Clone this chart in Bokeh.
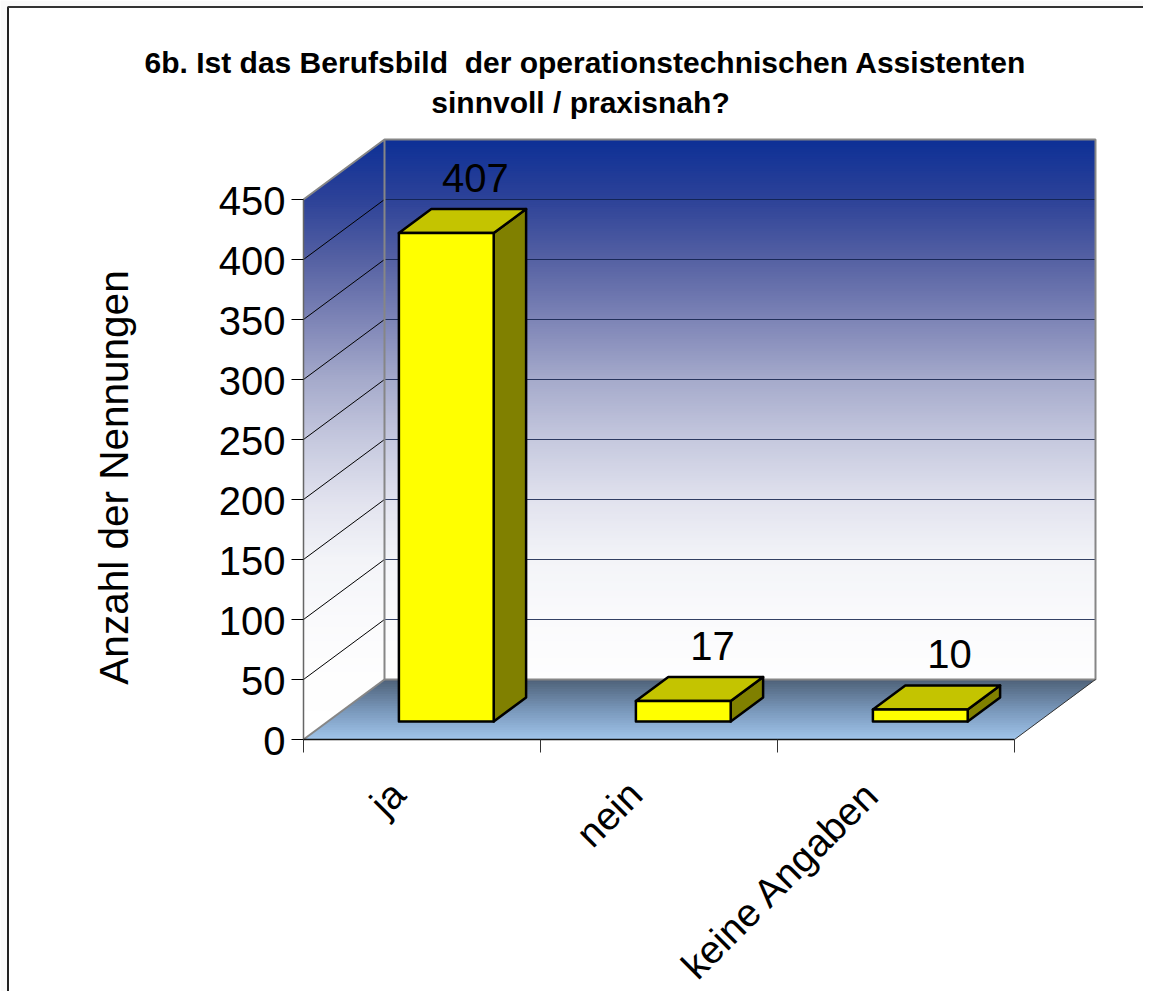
from bokeh.plotting import figure
from bokeh.models import Range1d
from bokeh.core.properties import value
from bokeh.embed import file_html
from bokeh.resources import INLINE

categories = ["ja", "nein", "keine Angaben"]
counts = [407, 17, 10]
y_ticks = [0, 50, 100, 150, 200, 250, 300, 350, 400, 450]
title_lines = ["6b. Ist das Berufsbild \u00a0der operationstechnischen Assistenten",
               "sinnvoll / praxisnah?"]
y_title = "Anzahl der Nennungen"
FONT = value("Liberation Sans")

W, H = 1143, 991
OX, OY = 0, 0
PX_U, PX_V = 237.0, 1.2        # pixels per category / per count
X0, Y0 = 303, 739              # pixel of the front origin
DX, DV = 81 / PX_U, 60 / PX_V  # full depth shift in data units
VMAX = 450


def ux(px):
    return (px - X0) / PX_U


def vy(py):
    return (Y0 - py) / PX_V


wall_stops = [(0.0, (13, 48, 150)), (0.10, (45, 66, 152)), (0.20, (85, 97, 163)),
              (0.30, (125, 132, 182)), (0.40, (165, 170, 203)), (0.50, (197, 200, 222)),
              (0.60, (225, 226, 238)), (0.70, (243, 244, 248)), (0.80, (250, 250, 252)),
              (0.90, (254, 254, 254)), (1.0, (255, 255, 255))]
floor_stops = [(0.0, (78, 97, 120)), (0.5, (120, 150, 185)), (1.0, (160, 197, 235))]


def grad(stops, t):
    t = min(max(t, 0), 1)
    for (a, ca), (b, cb) in zip(stops, stops[1:]):
        if t <= b:
            f = (t - a) / (b - a)
            c = [round(ca[i] + (cb[i] - ca[i]) * f) for i in range(3)]
            return "#%02x%02x%02x" % tuple(c)
    return "#ffffff"


p = figure(width=W, height=H, output_backend="svg", toolbar_location=None,
           x_axis_type=None, y_axis_type=None, min_border=0,
           x_range=Range1d(ux(OX), ux(OX + W)), y_range=Range1d(vy(OY + H), vy(OY)))
p.outline_line_color = None
p.background_fill_color = "white"
p.border_fill_color = "white"

# page tint outside the chart area, and chart-area frame
p.quad(left=[ux(0), ux(0)], right=[ux(7), ux(W)], bottom=[vy(H), vy(6)], top=[vy(0), vy(0)],
       fill_color="#fafafa", line_color=None)
p.line([ux(7.5), ux(7.5)], [vy(H), vy(6.5)], line_color="#222222", line_width=2)
p.line([ux(7), ux(W)], [vy(6.5), vy(6.5)], line_color="#333333", line_width=2)

n = len(categories)
top_v = VMAX + DV
STEP = 2.0

# wall gradients: strips running from the top of the back wall downward
xs_side, ys_side, cols_side = [], [], []
xs_back, ys_back, cols_back = [], [], []


def side(vv):
    d0 = max(0, (vv - VMAX) / DV)
    d1 = min(1, vv / DV)
    return d0 * DX, d1 * DX


v = top_v
while v > 0:
    lo = max(v - STEP * 1.6, 0)
    c = grad(wall_stops, (top_v - (v - STEP / 2)) / top_v)
    a0, a1 = side(v)
    b0, b1 = side(lo)
    xs_side.append([a0, a1, b1, b0])
    ys_side.append([v, v, lo, lo])
    cols_side.append(c)
    if v > DV:
        blo = max(lo, DV)
        xs_back.append([DX, n + DX, n + DX, DX])
        ys_back.append([v, v, blo, blo])
        cols_back.append(c)
    v -= STEP
p.patches(xs_side, ys_side, fill_color=cols_side, line_color=None)
p.patches(xs_back, ys_back, fill_color=cols_back, line_color=None)

# floor gradient
xs_f, ys_f, cols_f = [], [], []
d = 1.0
dstep = 0.04
while d > 0:
    e = max(d - dstep * 1.6, 0)
    xs_f.append([d * DX, n + d * DX, n + e * DX, e * DX])
    ys_f.append([d * DV, d * DV, e * DV, e * DV])
    cols_f.append(grad(floor_stops, 1 - (d - dstep / 2)))
    d -= dstep
p.patches(xs_f, ys_f, fill_color=cols_f, line_color=None)

# gridlines on both walls
for t in y_ticks[1:]:
    p.line([DX, n + DX], [t + DV, t + DV], line_color="#10204a", line_width=1, line_alpha=0.85)
for t in y_ticks[1:-1]:
    p.line([0, DX], [t, t + DV], line_color="black", line_width=1)

# wall borders (grey)
GREY = "#868686"
p.line([0, DX, n + DX, n + DX, DX, DX], [VMAX, VMAX + DV, VMAX + DV, DV, DV, VMAX + DV],
       line_color=GREY, line_width=2)
p.line([0, DX], [0, DV], line_color=GREY, line_width=2)

# axes
p.line([0, 0], [0, VMAX], line_color="#666666", line_width=1.5)
p.line([0, n], [0, 0], line_color="#111111", line_width=1.5)
p.line([n, n + DX], [0, DV], line_color="#333333", line_width=1)
p.segment([ux(291)] * len(y_ticks), y_ticks, [0] * len(y_ticks), y_ticks,
          line_color="black", line_width=1)
p.segment(list(range(n + 1)), [0] * (n + 1), list(range(n + 1)), [vy(752)] * (n + 1),
          line_color="#333333", line_width=1)

# bars
BW, D0, D1 = 0.4, 0.3, 0.7
for i, val in enumerate(counts):
    c = i + 0.5
    l0, r0 = c - BW / 2 + D0 * DX, c + BW / 2 + D0 * DX
    l1, r1 = c - BW / 2 + D1 * DX, c + BW / 2 + D1 * DX
    b0, t0 = D0 * DV, val + D0 * DV
    b1, t1 = D1 * DV, val + D1 * DV
    kw = dict(line_color="black", line_width=2.5, line_join="round")
    p.patch([r0, r1, r1, r0], [b0, b1, t1, t0], fill_color="#808000", **kw)
    p.patch([l0, r0, r1, l1], [t0, t0, t1, t1], fill_color="#c4c400", **kw)
    p.patch([l0, r0, r0, l0], [b0, b0, t0, t0], fill_color="#ffff00", **kw)

# value labels
p.text([i + 0.5 + 0.66 * DX for i in range(n)], [val + D1 * DV + 26 for val in counts],
       text=[str(val) for val in counts], text_font=FONT, text_font_size="40px",
       text_align="center", text_baseline="middle", text_color="black")

# y tick labels
p.text([ux(285)] * len(y_ticks), [t - 1 for t in y_ticks], text=[str(t) for t in y_ticks],
       text_font=FONT, text_font_size="40px", text_align="right",
       text_baseline="middle", text_color="black")

# category labels
p.text([i + 0.5 + ux(303 - 39) for i in range(n)], [vy(772)] * n, text=categories, text_font=FONT,
       text_font_size="39px", text_align="right", text_baseline="top", angle=45,
       angle_units="deg", text_color="black")

# axis title
p.text([ux(113)], [vy(477)], text=[y_title], text_font=FONT, text_font_size="40.5px",
       text_align="center", text_baseline="middle", angle=90, angle_units="deg",
       text_color="black")

# chart title
p.text([ux(585), ux(580)], [vy(62), vy(102)], text=title_lines, text_font=FONT,
       text_font_size="30px", text_font_style="bold", text_align="center",
       text_baseline="middle", text_color="black")

open("out.html", "w").write(file_html(p, INLINE))
